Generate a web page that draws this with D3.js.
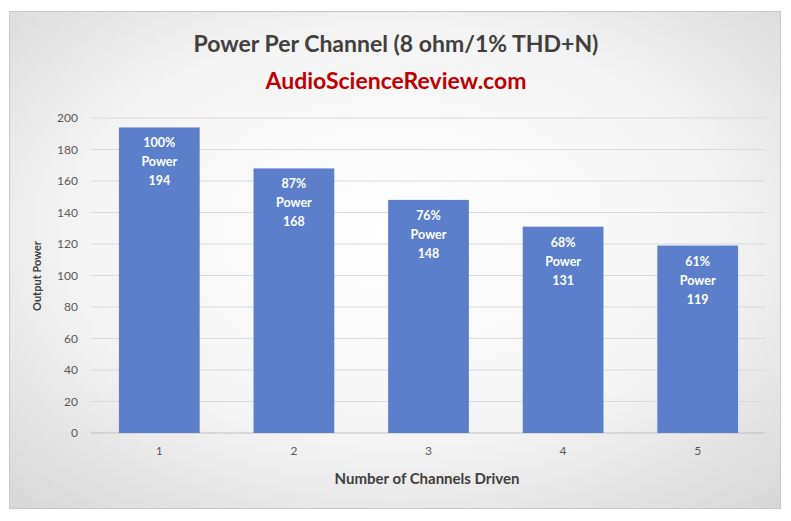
<!DOCTYPE html><html><head><meta charset="utf-8">
<script src="https://cdn.jsdelivr.net/npm/d3@7"></script>
<style>body{margin:0;background:#fff}svg{font-family:Lato,"Open Sans",sans-serif}</style></head><body>
<svg id="c" width="791" height="521"></svg>
<script>
const categories=["1","2","3","4","5"];
const values=[194,168,148,131,119];
const percents=["100%","87%","76%","68%","61%"];
const yTicks=[0,20,40,60,80,100,120,140,160,180,200];
const svg=d3.select("#c");
const defs=svg.append("defs");
const g=defs.append("radialGradient").attr("id","bg").attr("cx","50%").attr("cy","45%").attr("r","75%");
g.append("stop").attr("offset","0%").attr("stop-color","#ffffff");
g.append("stop").attr("offset","55%").attr("stop-color","#f4f4f4");
g.append("stop").attr("offset","100%").attr("stop-color","#d6d6d6");
svg.append("rect").attr("x",9.5).attr("y",11.5).attr("width",771).attr("height",497).attr("fill","url(#bg)").attr("stroke","#c8c8c8");
const x=d3.scaleBand().domain(categories).range([92,765]).paddingInner(0.4).paddingOuter(0.2);
const y=d3.scaleLinear().domain([0,200]).range([433,118]);
svg.append("g").selectAll("line").data(yTicks).join("line")
 .attr("x1",91).attr("x2",765).attr("y1",d=>y(d)).attr("y2",d=>y(d)).attr("stroke",d=>d==0?"#bfbfbf":"#d9d9d9");
svg.append("g").selectAll("text").data(yTicks).join("text")
 .attr("x",78).attr("y",d=>y(d)+4).attr("text-anchor","end").attr("font-size",12).attr("fill","#595959").text(d=>d);
svg.append("g").selectAll("rect").data(values).join("rect")
 .attr("x",(d,i)=>x(categories[i])).attr("width",x.bandwidth()).attr("y",d=>y(d)).attr("height",d=>y(0)-y(d)).attr("fill","#5b7fcb");
const lab=svg.append("g").selectAll("text").data(values).join("text")
 .attr("text-anchor","middle").attr("font-size",12.5).attr("font-weight","bold").attr("fill","#fff")
 .attr("y",d=>y(d)+20);
lab.each(function(d,i){const t=d3.select(this);const cx=x(categories[i])+x.bandwidth()/2;
 [percents[i],"Power",String(d)].forEach((s,k)=>t.append("tspan").attr("x",cx).attr("dy",k?19:0).text(s));});
svg.append("g").selectAll("text").data(categories).join("text")
 .attr("x",d=>x(d)+x.bandwidth()/2).attr("y",455).attr("text-anchor","middle").attr("font-size",12).attr("fill","#595959").text(d=>d);
svg.append("text").attr("x",427).attr("y",484).attr("text-anchor","middle").attr("font-size",15).attr("font-weight","bold").attr("fill","#404040").text("Number of Channels Driven");
svg.append("text").attr("transform","translate(41,276) rotate(-90)").attr("text-anchor","middle").attr("font-size",11).attr("font-weight","bold").attr("fill","#404040").text("Output Power");
svg.append("text").attr("x",396).attr("y",52).attr("text-anchor","middle").attr("font-size",23).attr("font-weight","bold").attr("fill","#404040").text("Power Per Channel (8 ohm/1% THD+N)");
svg.append("text").attr("x",396).attr("y",89).attr("text-anchor","middle").attr("font-size",23).attr("font-weight","bold").attr("fill","#c00000").text("AudioScienceReview.com");
</script></body></html>
